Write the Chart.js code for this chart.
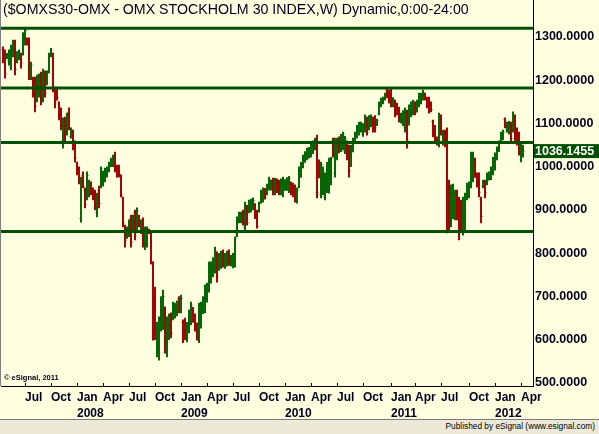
<!DOCTYPE html>
<html>
<head>
<meta charset="utf-8">
<script src="https://cdn.jsdelivr.net/npm/chart.js@4.4.1/dist/chart.umd.min.js"></script>
<style>
  html, body { margin: 0; padding: 0; background: #FFFFE0; }
  #wrap { width: 599px; height: 419px; position: relative; }
  #footer {
    width: 599px; height: 15px; box-sizing: border-box;
    background: #ECE9D8; border-top: 1px solid #7a7a7a;
    font: 8.3px "Liberation Sans", Arial, sans-serif; color: #000;
    text-align: right; padding-right: 4px; line-height: 13px;
  }
</style>
</head>
<body>
<div id="wrap"><canvas id="chart" width="599" height="419"></canvas></div>
<div id="footer">Published by eSignal (www.esignal.com)</div>
<script>
// weekly bars, first one is the week ending 2007-04-20
const firstWeek = Date.UTC(2007, 3, 20);

const highs = [
  1277,1270,1262,1270,1281,1293,1293,1266,1270,1263,
  1310,1321,1298,1298,1242,1207,1207,1212,1215,1219,
  1226,1222,1222,1263,1274,1263,1184,1184,1150,1136,
  1113,1115,1124,1136,1090,1085,1060,1011,1000,976,
  988,951,988,969,965,951,946,939,955,1000,
  990,997,1000,1011,1020,1027,1034,1004,1004,981,
  930,865,861,877,888,888,900,905,888,877,
  882,861,861,856,850,780,722,640,653,700,
  715,676,653,660,662,687,685,690,700,703,
  646,650,640,669,687,675,660,639,685,687,
  700,727,731,780,780,790,814,803,800,805,
  808,800,805,808,795,800,838,884,895,895,
  900,918,911,923,925,928,915,900,918,946,
  951,950,960,976,969,974,974,972,969,972,
  976,970,975,978,965,962,958,951,1000,1010,
  1027,1035,1043,1045,1055,1060,1066,1073,1016,1011,
  1000,986,1010,1020,1022,1066,1066,1066,1069,1075,
  1080,1070,1060,1050,1050,1066,1080,1096,1103,1103,
  1100,1120,1115,1118,1120,1115,1118,1110,1150,1159,
  1161,1170,1182,1177,1182,1160,1154,1147,1138,1124,
  1130,1136,1131,1143,1150,1154,1150,1154,1170,1170,
  1177,1170,1161,1161,1150,1108,1096,1069,1124,1120,
  1085,1085,1090,969,958,960,946,946,930,923,
  930,939,962,965,1034,1034,1020,986,986,930,
  969,969,986,988,1000,1022,1032,1046,1060,1080,
  1085,1113,1103,1105,1103,1127,1120,1090,1080,1057,
  1050
];

const lows = [
  1240,1205,1250,1235,1224,1254,1212,1240,1247,1228,
  1258,1281,1281,1201,1201,1161,1127,1150,1161,1143,
  1150,1161,1189,1217,1254,1173,1136,1154,1108,1085,
  1043,1060,1073,1085,1066,1039,1011,981,960,872,
  951,905,923,930,935,923,900,884,905,951,
  955,965,976,988,1000,1000,988,976,976,930,
  861,814,834,838,814,854,831,847,861,845,
  814,808,814,845,775,599,600,560,553,620,
  623,569,560,600,604,646,650,655,662,662,
  593,600,595,616,634,640,620,599,593,627,
  660,662,687,710,731,745,754,733,760,765,
  768,765,770,772,770,766,768,838,870,870,
  865,849,865,893,895,900,880,858,895,916,
  918,925,935,946,946,935,935,940,935,935,
  930,945,945,940,935,930,918,916,951,975,
  997,1010,1016,1020,1022,1030,1039,928,974,928,
  935,923,940,939,958,1022,976,1016,1032,1035,
  1039,1030,1016,976,1000,1034,1060,1066,1073,1080,
  1070,1080,1073,1085,1092,1080,1080,1095,1120,1138,
  1145,1154,1159,1147,1138,1138,1115,1120,1103,1101,
  1095,1080,1043,1096,1115,1120,1120,1127,1138,1145,
  1154,1154,1136,1124,1127,1069,1055,1050,1046,1073,
  1050,1046,847,849,861,880,877,877,831,854,
  842,854,923,928,951,965,975,953,930,870,
  951,928,958,969,970,981,992,1016,1035,1055,
  1062,1090,1080,1075,1057,1080,1057,1050,1027,1011,
  1022
];

const opens = [
  1270,1262,1256,1245,1230,1262,1285,1245,1252,1258,
  1260,1295,1295,1290,1210,1205,1200,1155,1175,1210,
  1155,1215,1195,1220,1258,1262,1175,1180,1145,1125,
  1060,1105,1080,1125,1070,1080,1050,1010,995,880,
  980,945,930,940,960,945,940,895,945,955,
  965,970,980,992,1002,1005,1025,1000,995,978,
  928,862,840,842,880,858,895,852,885,850,
  875,815,820,855,845,775,700,600,580,625,
  640,670,570,610,655,650,655,660,695,670,
  640,645,600,620,640,670,655,635,600,635,
  668,670,695,715,740,755,760,800,765,770,
  802,770,775,805,775,778,775,845,872,875,
  895,860,905,895,900,905,912,895,898,918,
  922,945,938,950,950,968,942,965,962,945,
  940,950,952,948,960,958,950,925,955,980,
  1000,1015,1020,1025,1028,1035,1045,1065,1010,935,
  945,930,950,960,965,1060,985,1020,1065,1040,
  1045,1035,1055,1045,1005,1040,1062,1070,1078,1085,
  1075,1085,1110,1088,1095,1110,1112,1098,1122,1140,
  1148,1156,1178,1170,1175,1140,1150,1142,1135,1105,
  1100,1090,1125,1100,1120,1125,1145,1130,1140,1150,
  1158,1168,1158,1155,1145,1105,1090,1068,1055,1115,
  1055,1080,1075,950,870,890,900,940,920,915,
  850,870,930,935,955,975,1015,980,978,925,
  955,965,962,972,975,985,1000,1020,1040,1058,
  1065,1110,1085,1080,1098,1085,1115,1085,1075,1030,
  1028
];

const closes = [
  1250,1215,1260,1265,1270,1288,1225,1260,1265,1240,
  1300,1315,1285,1215,1235,1170,1140,1200,1205,1160,
  1215,1170,1215,1255,1270,1180,1150,1160,1115,1095,
  1100,1075,1115,1090,1085,1045,1020,985,965,965,
  955,912,980,960,940,928,905,930,915,995,
  985,990,995,1005,1015,1022,995,980,982,935,
  870,830,855,870,825,882,840,898,865,872,
  820,855,852,848,780,610,620,625,640,690,
  700,580,640,650,615,680,675,685,670,695,
  600,610,630,660,680,648,630,605,678,680,
  695,720,725,770,770,785,805,745,795,800,
  775,795,800,780,790,792,835,878,890,888,
  870,912,870,918,920,922,885,862,915,940,
  945,930,955,970,965,940,968,945,945,965,
  970,965,970,972,940,935,925,945,995,1005,
  1022,1030,1038,1040,1050,1055,1060,940,980,1005,
  990,980,1005,1015,1018,1030,1055,1060,1040,1070,
  1075,1065,1025,990,1045,1062,1075,1090,1098,1098,
  1095,1115,1080,1112,1115,1088,1090,1106,1145,1155,
  1158,1166,1165,1152,1145,1155,1120,1125,1108,1118,
  1125,1130,1060,1138,1145,1150,1125,1150,1165,1165,
  1172,1158,1140,1130,1132,1075,1060,1055,1115,1080,
  1078,1055,930,870,940,945,935,890,845,865,
  920,930,955,960,1025,1020,985,960,940,885,
  965,940,980,985,995,1018,1028,1042,1055,1075,
  1080,1095,1100,1100,1065,1120,1065,1055,1035,1045,
  1036.1455
];

// horizontal trend levels drawn on the chart
const levels = [1320, 1182, 1056, 850];
const priceTicks = [500, 600, 700, 800, 900, 1000, 1100, 1200, 1300];
const monthNames = ['Jan','Feb','Mar','Apr','May','Jun','Jul','Aug','Sep','Oct','Nov','Dec'];

const titleText = '($OMXS30-OMX - OMX STOCKHOLM 30 INDEX,W) Dynamic,0:00-24:00';

const UP = '#006400';
const DOWN = '#A00000';
const LEVEL = '#005200';
const TEXT = '#000020';
const FONT = '"Liberation Sans", Arial, sans-serif';

// quarter ticks on the first week of Jan/Apr/Jul/Oct
const weekDates = closes.map((c, i) => new Date(firstWeek + i * 7 * 864e5));
const quarterTicks = [];
const quarterLabels = {};
weekDates.forEach((d, i) => {
  if (i === 0) return;
  const m = d.getUTCMonth();
  if (m % 3 === 0 && m !== weekDates[i - 1].getUTCMonth()) {
    quarterTicks.push(i);
    quarterLabels[i] = m === 0 ? [monthNames[m], String(d.getUTCFullYear())] : [monthNames[m]];
  }
});

const barData = closes.map((c, i) => ({ x: i, y: [lows[i], highs[i]] }));
const barColors = closes.map((c, i) => (c >= opens[i] ? UP : DOWN));

const ohlcPlugin = {
  id: 'ohlc',
  afterDatasetsDraw(chart) {
    const { ctx, chartArea, scales } = chart;
    const yS = scales.y;
    const meta = chart.getDatasetMeta(0);
    ctx.save();
    ctx.beginPath();
    ctx.rect(chartArea.left, chartArea.top, chartArea.right - chartArea.left, chartArea.bottom - chartArea.top);
    ctx.clip();
    ctx.lineWidth = 1;
    meta.data.forEach((el, i) => {
      const yo = yS.getPixelForValue(opens[i]);
      const yc = yS.getPixelForValue(closes[i]);
      ctx.strokeStyle = barColors[i];
      ctx.beginPath();
      ctx.moveTo(el.x - 1.5, yo);
      ctx.lineTo(el.x, yo);
      ctx.moveTo(el.x, yc);
      ctx.lineTo(el.x + 1.5, yc);
      ctx.stroke();
    });
    // trend levels
    ctx.strokeStyle = LEVEL;
    ctx.lineWidth = 3;
    levels.forEach(v => {
      const y = yS.getPixelForValue(v);
      ctx.beginPath();
      ctx.moveTo(chartArea.left, y);
      ctx.lineTo(chartArea.right, y);
      ctx.stroke();
    });
    // small quarter ticks inside the bottom edge
    ctx.strokeStyle = '#000000';
    ctx.lineWidth = 1;
    quarterTicks.forEach(v => {
      const x = Math.round(scales.x.getPixelForValue(v)) + 0.5;
      ctx.beginPath();
      ctx.moveTo(x, chartArea.bottom);
      ctx.lineTo(x, chartArea.bottom - 3);
      ctx.stroke();
    });
    ctx.restore();
  },
  afterDraw(chart) {
    const { ctx, chartArea, scales } = chart;
    ctx.save();
    // left frame
    ctx.strokeStyle = '#808080';
    ctx.lineWidth = 1;
    ctx.beginPath();
    ctx.moveTo(0.5, 0);
    ctx.lineTo(0.5, chartArea.bottom);
    ctx.stroke();
    // title
    ctx.fillStyle = TEXT;
    ctx.font = '14.2px ' + FONT;
    ctx.textBaseline = 'top';
    ctx.fillText(titleText, 3, 3);
    // copyright
    ctx.font = 'bold 7.5px ' + FONT;
    ctx.textBaseline = 'middle';
    ctx.fillText('\u00A9 eSignal, 2011', 4, chartArea.bottom - 8);
    // last price box
    const last = closes[closes.length - 1];
    const y = scales.y.getPixelForValue(last);
    ctx.fillStyle = '#005000';
    ctx.fillRect(chartArea.right + 1, y - 7, 65, 14);
    ctx.fillStyle = '#ffffff';
    ctx.font = 'bold 12.5px ' + FONT;
    ctx.fillText(last.toFixed(4), chartArea.right + 2, y + 0.5);
    ctx.restore();
  }
};

new Chart(document.getElementById('chart'), {
  type: 'bar',
  data: {
    datasets: [{
      data: barData,
      backgroundColor: barColors,
      barThickness: 1.3,
      borderWidth: 0
    }]
  },
  options: {
    responsive: false,
    animation: false,
    layout: { padding: { left: 1, top: 0, right: 0, bottom: 0 } },
    plugins: { legend: { display: false }, tooltip: { enabled: false } },
    scales: {
      x: {
        type: 'linear',
        offset: false,
        min: -1,
        max: 265,
        afterBuildTicks: s => { s.ticks = quarterTicks.map(v => ({ value: v })); },
        afterFit: s => { s.height = 33; s.paddingLeft = 0; s.paddingRight = 0; },
        grid: { display: false, drawTicks: false, offset: false },
        border: { color: '#000000', width: 1 },
        ticks: {
          autoSkip: false,
          maxRotation: 0,
          align: 'start',
          padding: 4,
          color: TEXT,
          font: { family: FONT, size: 12, weight: 'bold', lineHeight: 1.3 },
          callback: v => quarterLabels[v] || ''
        }
      },
      y: {
        position: 'right',
        min: 493,
        max: 1385.5,
        afterBuildTicks: s => { s.ticks = priceTicks.map(v => ({ value: v })); },
        afterFit: s => { s.width = 66; s.paddingTop = 0; s.paddingBottom = 0; },
        grid: { display: false, drawTicks: false },
        border: { color: '#000000', width: 1 },
        ticks: {
          padding: 2,
          color: TEXT,
          font: { family: FONT, size: 12.5, weight: 'bold' },
          callback: v => v.toFixed(4)
        }
      }
    }
  },
  plugins: [ohlcPlugin]
});
</script>
</body>
</html>
